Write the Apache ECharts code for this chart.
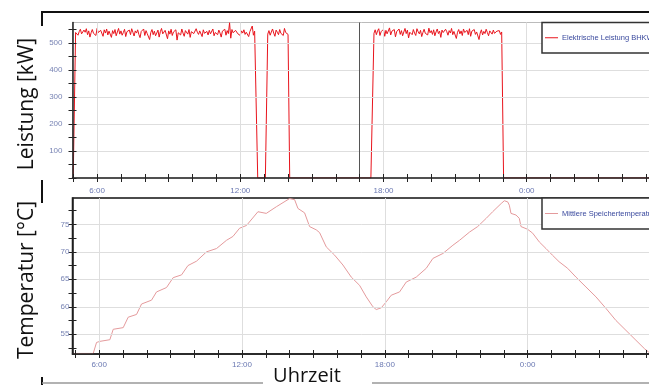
<!DOCTYPE html>
<html><head><meta charset="utf-8">
<script src="https://cdn.jsdelivr.net/npm/echarts@6/dist/echarts.min.js"></script>
<style>html,body{margin:0;padding:0;background:#fff}#c{width:649px;height:385px}</style>
</head><body><div id="c"></div><script>
// ---- axis ticks / labels (hours of day, values) ----
const hourTicks = [5,6,7,8,9,10,11,12,13,14,15,16,17,18,19,20,21,22,23,24,25,26,27,28,29,30];
const xLabelHours = [6,12,18,24];
const powerTicks = [0,50,100,150,200,250,300,350,400,450,500,550];
const powerLabels = [100,200,300,400,500];
const tempTicks = [52.5,55,57.5,60,62.5,65,67.5,70,72.5,75,77.5];
const tempLabels = [55,60,65,70,75];

// ---- electrical power (kW), 3-minute samples in three running periods ----
const powerStep = 0.05;
const powerSegAStart = 5.10;
const powerSegA = [
538,545,528,541,550,533,526,547,539,552,530,544,521,537,549,535,542,527,553,538,
531,546,540,524,548,536,551,529,543,537,520,545,534,549,526,540,553,532,544,528,
538,550,523,541,535,547,530,552,539,525,544,536,548,531,519,542,537,551,527,545,
534,540,512,538,549,530,543,526,536,547,521,541,553,533,528,546,539,515,544,532,
550,527,540,535,548,510,537,543,529,551,536,524,545,538,532,549,520,541,547,534,
527,552,539,531,544,537,523,548,535,542,542,529,546,533,540,551,526,538,544,530,
547,536,521,543,539,550,528,545,534,574,517,549,537,530,546,540,533,540,527,544,
536,548,531,539,545,523,541,535,562,528,543,537];
const powerSegBStart = 13.15;
const powerSegB = [532,545,528,540,551,536,524,547,539,530,549,535,542,527,553,538,544,531];
const powerSegCStart = 17.60;
const powerSegC = [
535,548,530,544,552,527,541,537,550,524,546,533,540,555,529,543,536,549,522,541,
538,551,531,545,526,540,553,534,547,518,539,544,530,549,536,527,552,541,533,546,
523,538,550,535,542,529,554,537,545,531,548,526,540,551,534,543,520,547,538,532,
550,541,528,545,536,553,530,542,547,516,539,549,533,544,527,551,538,535,546,530,
552,524,543,537,549,531,540,545,512,536,548,529,542,534,550,538,526,544,540,532,
547,535,528,543,538,545,531,540];
const powerOffTimes = [5.00, 12.73, 13.05, 14.07, 17.47, 23.03, 30.5];
const powerOffValues = [0, 0, 0, 0, 0, 0, 0];

// ---- mean storage temperature (°C) ----
const tempTimes = [4.88,5.75,5.89,6.03,6.45,6.59,7.01,7.22,7.57,7.78,8.20,8.41,8.83,9.11,9.46,9.73,10.09,10.51,10.93,11.35,11.62,11.90,12.19,12.67,13.02,13.44,14.00,14.21,14.35,14.63,14.84,15.12,15.26,15.54,15.89,16.24,16.59,16.94,17.22,17.50,17.64,17.85,18.06,18.27,18.62,18.90,19.32,19.74,20.02,20.44,20.86,21.14,21.56,21.90,22.26,22.53,22.89,23.02,23.16,23.23,23.30,23.51,23.65,23.72,24.00,24.21,24.49,24.77,25.04,25.32,25.68,26.03,26.45,26.87,27.29,27.71,28.13,28.55,28.90,29.07,29.30];
const tempValues = [51.5,51.5,53.5,53.7,54.0,55.9,56.2,58.1,58.6,60.5,61.2,62.7,63.5,65.3,65.8,67.5,68.3,70.0,70.6,72.1,72.8,74.3,74.8,77.3,77.0,78.2,79.7,79.5,77.9,77.1,74.6,74.0,73.5,70.9,69.4,67.6,65.4,63.9,61.8,60.0,59.5,59.8,60.9,62.1,62.7,64.5,65.4,67.0,68.8,69.7,71.2,72.1,73.6,74.6,76.1,77.3,78.8,79.3,79.1,78.5,77.0,76.7,76.1,74.6,74.1,73.4,71.8,70.6,69.4,68.2,67.0,65.4,63.6,61.8,59.7,57.5,55.7,53.9,52.4,51.8,51.0];

const markerHour = 17.0;
const powerName = 'Elektrische Leistung BHKW';
const tempName = 'Mittlere Speichertemperatur';
const powerTitle = 'Leistung [kW]';
const tempTitle = 'Temperatur [°C]';
const timeTitle = 'Uhrzeit';

// ---- build series data ----
function seg(start, vals){ return vals.map((v,i)=>[+(start+i*powerStep).toFixed(3), v]); }
const powerData = [].concat(
  seg(powerSegAStart, powerSegA), seg(powerSegBStart, powerSegB), seg(powerSegCStart, powerSegC),
  powerOffTimes.map((t,i)=>[t, powerOffValues[i]])
).sort((a,b)=>a[0]-b[0]);
const tempData = tempTimes.map((t,i)=>[t, tempValues[i]]);

const axisCol = '#222';
const gridCol = '#dedede';
const powerCol = '#e8141c';
const tempCol = '#e49a9c';
const fmtHour = v => (Math.round(v) % 24) + ':00';

function xAxes(g, min, max, margin){
  return [
    {gridIndex:g, type:'value', position:'bottom', min, max, z:10,
     axisLine:{show:true,onZero:false,lineStyle:{color:axisCol,width:1.5}},
     axisTick:{show:true,customValues:hourTicks,length:4,lineStyle:{color:axisCol,width:1}},
     axisLabel:{show:true,customValues:xLabelHours,formatter:fmtHour,color:'#6a78b2',fontSize:8,margin,fontFamily:'Liberation Sans'},
     splitLine:{show:false}},
    {gridIndex:g, type:'value', position:'bottom', min, max, z:10,
     axisLine:{show:false,onZero:false},
     axisTick:{show:true,inside:true,customValues:hourTicks,length:4,lineStyle:{color:axisCol,width:1}},
     axisLabel:{show:false}, splitLine:{show:false}}
  ];
}
function yAxes(g, min, max, ticks, labels, margin){
  return [
    {gridIndex:g, type:'value', position:'left', min, max, z:10,
     axisLine:{show:true,onZero:false,lineStyle:{color:axisCol,width:1.5}},
     axisTick:{show:true,customValues:ticks,length:4,lineStyle:{color:axisCol,width:1}},
     axisLabel:{show:true,customValues:labels,color:'#7884b4',fontSize:8,margin,fontFamily:'Liberation Sans'},
     splitLine:{show:false}},
    {gridIndex:g, type:'value', position:'left', min, max, z:10,
     axisLine:{show:false,onZero:false},
     axisTick:{show:true,inside:true,customValues:ticks,length:4,lineStyle:{color:axisCol,width:1}},
     axisLabel:{show:false}, splitLine:{show:false}}
  ];
}

const gl = {color:gridCol,width:1,type:'solid'};
const topGridLines = xLabelHours.map(h=>({xAxis:h,lineStyle:gl}))
  .concat(powerLabels.map(v=>({yAxis:v,lineStyle:gl})))
  .concat([{xAxis:markerHour,lineStyle:{color:'#555',width:1,type:'solid'}}]);
const botGridLines = xLabelHours.map(h=>({xAxis:h,lineStyle:gl}))
  .concat(tempLabels.map(v=>({yAxis:v,lineStyle:gl})));

function legendBox(y, h, col, text){
  return [
    {type:'rect', z:100, shape:{x:542,y:y,width:160,height:h}, style:{fill:'#fff',stroke:'#333',lineWidth:1.5}},
    {type:'line', z:101, shape:{x1:545,y1:y+h/2,x2:558,y2:y+h/2}, style:{stroke:col,lineWidth:1}},
    {type:'text', z:101, x:562, y:y+h/2, style:{text, font:'7.5px "Liberation Sans"', fill:'#3b4a9e', textVerticalAlign:'middle'}}
  ];
}
function vTitle(text, cx, cy){
  return {type:'text', x:cx, y:cy, rotation:Math.PI/2,
    style:{text, font:'21px "Open Sans"', fill:'#111', textAlign:'center', textVerticalAlign:'middle'}};
}

const chart = echarts.init(document.getElementById('c'), null, {renderer:'canvas'});
chart.setOption({
  animation:false,
  backgroundColor:'#fff',
  grid:[
    {left:72.5, top:22.5, width:606.3, height:155.5, outerBoundsMode:'none', containLabel:false,
     show:true, borderColor:'#bbb', borderWidth:1, backgroundColor:'transparent'},
    {left:72.5, top:198, width:606.3, height:156, outerBoundsMode:'none', containLabel:false,
     show:true, borderColor:'#111', borderWidth:1.5, backgroundColor:'transparent'}
  ],
  xAxis: [].concat(xAxes(0, 4.97, 30.37, 9), xAxes(1, 4.88, 30.35, 7)),
  yAxis: [].concat(yAxes(0, 0, 575, powerTicks, powerLabels, 10),
                   yAxes(1, 51.4, 79.8, tempTicks, tempLabels, 3)),
  series:[
    {name:powerName, type:'line', xAxisIndex:0, yAxisIndex:0, data:powerData,
     symbol:'none', lineStyle:{color:powerCol,width:1}, itemStyle:{color:powerCol},
     markLine:{silent:true, symbol:['none','none'], label:{show:false}, data:topGridLines}},
    {name:tempName, type:'line', xAxisIndex:2, yAxisIndex:2, data:tempData,
     symbol:'none', lineStyle:{color:tempCol,width:1}, itemStyle:{color:tempCol},
     markLine:{silent:true, symbol:['none','none'], label:{show:false}, data:botGridLines}}
  ],
  graphic:[
    {type:'line', shape:{x1:42,y1:12,x2:649,y2:12}, style:{stroke:'#111',lineWidth:2}},
    {type:'line', shape:{x1:42,y1:11,x2:42,y2:26}, style:{stroke:'#111',lineWidth:2}},
    {type:'line', shape:{x1:42,y1:180,x2:42,y2:203}, style:{stroke:'#111',lineWidth:2}},
    {type:'line', shape:{x1:42,y1:377,x2:42,y2:385}, style:{stroke:'#111',lineWidth:2}},
    {type:'line', shape:{x1:42,y1:383,x2:263,y2:383}, style:{stroke:'#999',lineWidth:1.5}},
    {type:'line', shape:{x1:372,y1:383,x2:649,y2:383}, style:{stroke:'#999',lineWidth:1.5}},
    {type:'text', x:307, y:376, style:{text:timeTitle, font:'20px "Open Sans"', fill:'#111', textAlign:'center', textVerticalAlign:'middle'}},
    vTitle(powerTitle, 27, 104),
    vTitle(tempTitle, 27, 280)
  ].concat(legendBox(22.5, 30.5, powerCol, powerName), legendBox(198, 31, tempCol, tempName))
});
</script></body></html>
